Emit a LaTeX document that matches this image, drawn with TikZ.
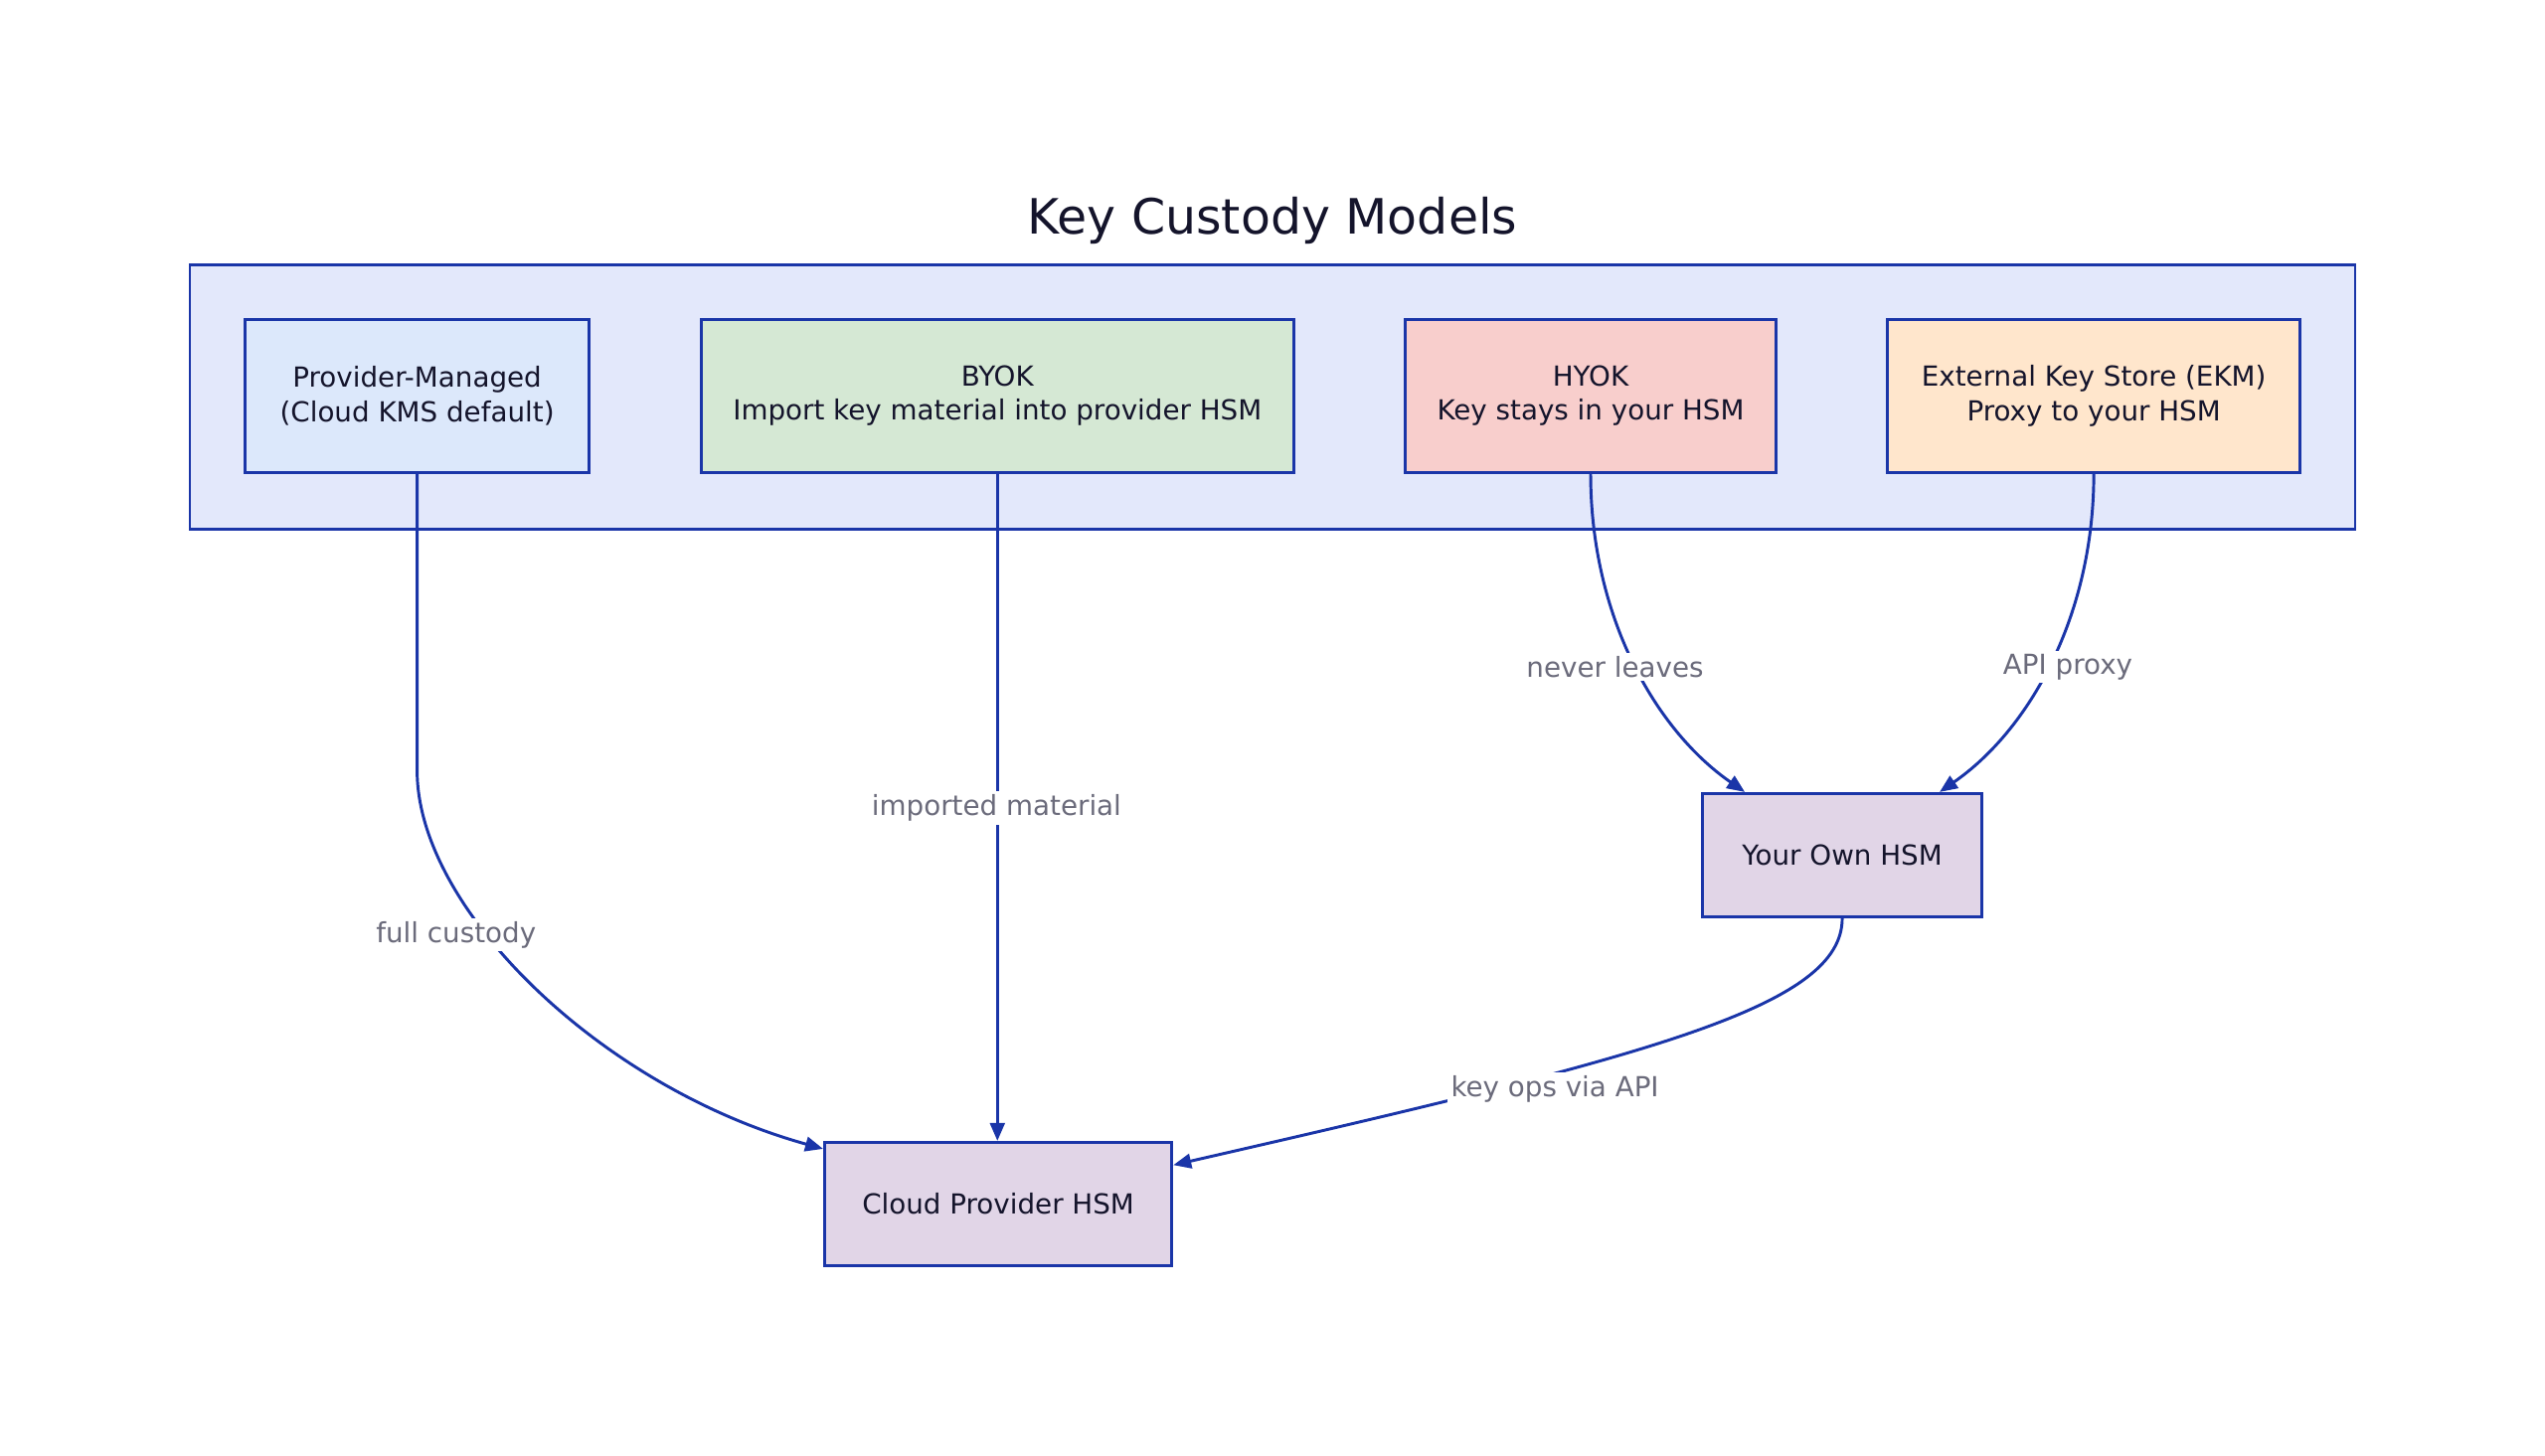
\documentclass[tikz,border=0pt]{standalone}
\usepackage{fontspec}
\setmainfont{DejaVu Sans}
\usetikzlibrary{arrows.meta}
\definecolor{edge}{HTML}{1A35A8}
\definecolor{lbl}{HTML}{6B6B7B}
\definecolor{txt}{HTML}{14142B}
\begin{document}
\begin{tikzpicture}[x=1pt,y=-1pt,
  box/.style={draw=edge,line width=1.8pt,minimum height=94pt,align=center,text=txt,font=\fontsize{17}{21}\selectfont,inner sep=0pt},
  hsm/.style={box,minimum height=76pt,fill=hsmc},
  lab/.style={fill=white,text=lbl,font=\fontsize{17}{21}\selectfont,inner sep=2pt},
  con/.style={draw=edge,line width=1.8pt,-{Triangle[length=11pt,width=9pt]}}]
\definecolor{hsmc}{HTML}{E1D5E7}
\useasboundingbox (0,0) rectangle (1568,897);
\node[text=txt,font=\fontsize{30}{36}\selectfont] (title) at (784,136) {Key Custody Models};
\node[draw=edge,line width=1.8pt,fill={rgb,255:red,227;green,232;blue,251},minimum width=1334pt,minimum height=163pt,inner sep=0pt] (grp) at (784,244.5) {};
\node[box,fill={rgb,255:red,220;green,232;blue,251},minimum width=212pt] (pm) at (257,244) {Provider-Managed\\(Cloud KMS default)};
\node[box,fill={rgb,255:red,213;green,232;blue,212},minimum width=365pt] (byok) at (614.5,244) {BYOK\\Import key material into provider HSM};
\node[box,fill={rgb,255:red,248;green,206;blue,204},minimum width=228pt] (hyok) at (980,244) {HYOK\\Key stays in your HSM};
\node[box,fill={rgb,255:red,255;green,230;blue,204},minimum width=254pt] (ekm) at (1290,244) {External Key Store (EKM)\\Proxy to your HSM};
\node[hsm,minimum width=172pt] (own) at (1135,527) {Your Own HSM};
\node[hsm,minimum width=214pt] (cloud) at (615,742) {Cloud Provider HSM};
\coordinate (pmbend) at (257,475);
\draw[con] (pm.south) -- (pmbend) .. controls (257,560) and (370,670) .. (cloud.west |- 0,708);
\draw[con] (byok.south) -- (cloud.north -| byok.south);
\draw[con] (hyok.south) .. controls (980,380) and (1020,450) .. (own.north -| 1075,0);
\draw[con] (ekm.south) .. controls (1290,380) and (1250,450) .. (own.north -| 1195,0);
\draw[con] (own.south) .. controls (1135,620) and (1020,650) .. (cloud.east |- 0,718);
\node[lab] (l1) at (281,576) {full custody};
\node[lab] (l2) at (614,498) {imported material};
\node[lab] (l3) at (995,411) {never leaves};
\node[lab] (l4) at (1274,411) {API proxy};
\node[lab] (l5) at (958,671) {key ops via API};
\end{tikzpicture}
\end{document}
